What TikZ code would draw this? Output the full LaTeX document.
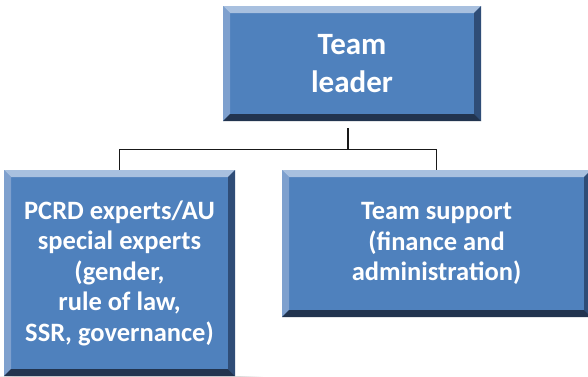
\documentclass[tikz,border=0pt]{standalone}
\usepackage{fontspec}
\setmainfont{Carlito}
\usetikzlibrary{calc,backgrounds}
\definecolor{facecol}{HTML}{4F81BD}
\definecolor{toplt}{HTML}{A8C0DF}
\definecolor{leftlt}{HTML}{7EA0CE}
\definecolor{rightdk}{HTML}{2F4D77}
\definecolor{botdk}{HTML}{22344F}
\tikzset{
  bevelbox/.style={rectangle, fill=facecol, inner sep=0pt, align=center,
    text=white, font=\bfseries,
    path picture={
      \coordinate (pnw) at (path picture bounding box.north west);
      \coordinate (pne) at (path picture bounding box.north east);
      \coordinate (psw) at (path picture bounding box.south west);
      \coordinate (pse) at (path picture bounding box.south east);
      \fill[toplt] (pnw) -- (pne) -- ([shift={(-7pt,-7pt)}]pne) -- ([shift={(7pt,-7pt)}]pnw) -- cycle;
      \fill[leftlt] (pnw) -- ([shift={(7pt,-7pt)}]pnw) -- ([shift={(7pt,7pt)}]psw) -- (psw) -- cycle;
      \fill[rightdk] (pne) -- ([shift={(-7pt,-7pt)}]pne) -- ([shift={(-7pt,7pt)}]pse) -- (pse) -- cycle;
      \fill[botdk] (psw) -- ([shift={(7pt,7pt)}]psw) -- ([shift={(-7pt,7pt)}]pse) -- (pse) -- cycle;
    }},
  connector/.style={draw=black!90, line width=1.2pt},
  bigtext/.style={font=\fontsize{31}{38}\selectfont\bfseries},
  smalltext/.style={font=\fontsize{26.5}{30.5}\selectfont\bfseries}
}
\newcommand{\softshadow}[1]{%
  \foreach \k in {-20,-18,...,20}{%
    \pgfmathsetmacro{\rr}{max(abs(\k),0.1)}%
    \fill[black, opacity=0.012, rounded corners=\rr pt]
      ([shift={(8pt-\k pt,-4pt+\k pt)}]#1.north west) rectangle
      ([shift={(8pt+\k pt,-4pt-\k pt)}]#1.south east);
  }%
}
\begin{document}
\begin{tikzpicture}[x=1pt,y=-1pt]
\useasboundingbox (0,0) rectangle (588,376);
\fill[white] (0,0) rectangle (588,376);
\node[bevelbox, bigtext, minimum width=258pt, minimum height=115pt] (top) at (352,63.5) {Team\\leader};
\node[bevelbox, smalltext, minimum width=231pt, minimum height=206pt] (left) at (119.5,273) {PCRD experts/AU\\special experts\\(gender,\\rule of law,\\SSR, governance)};
\node[bevelbox, smalltext, minimum width=309pt, minimum height=147pt] (right) at (436.5,243.5) {Team support\\(finance and\\administration)};
\begin{scope}[on background layer]
  \softshadow{top}
  \softshadow{left}
  \softshadow{right}
\end{scope}
\coordinate (split) at ([xshift=-4pt,yshift=-28pt]top.south);
\draw[connector] ([xshift=-4pt,yshift=-7pt]top.south) -- (split);
\draw[connector] (split) -| (left.north);
\draw[connector] (split) -| (right.north);
\end{tikzpicture}
\end{document}
